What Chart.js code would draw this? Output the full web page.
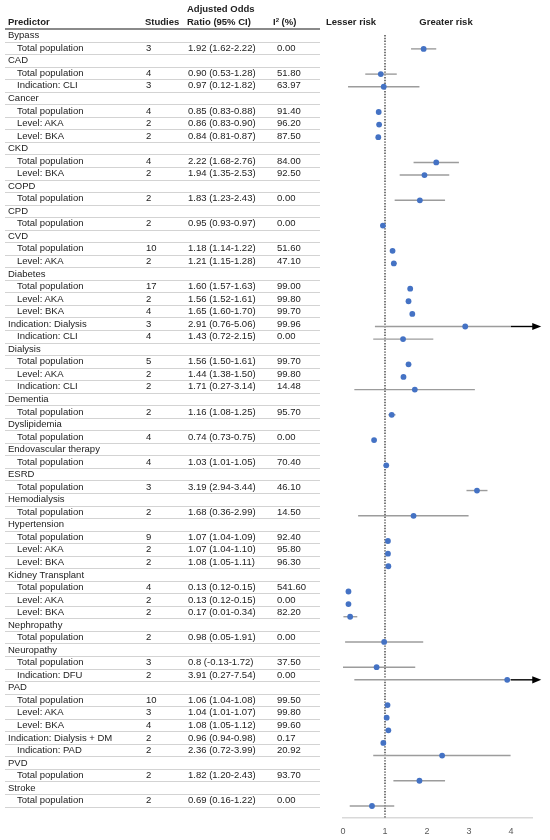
<!DOCTYPE html>
<html>
<head>
<meta charset="utf-8">
<title>Predictors - adjusted odds ratios</title>
<script src="https://cdn.jsdelivr.net/npm/chart.js@4"></script>
<style>
  body { margin: 0; background: #fff; }
  #wrap { position: relative; width: 550px; height: 840px; font-family: "Liberation Sans", Arial, sans-serif; color: #222; }
  #forest { position: absolute; left: 0; top: 0; }
  #table { position: absolute; left: 0; top: 0; width: 550px; height: 60px; }
  .txt { position: absolute; white-space: nowrap; font-size: 9.5px; line-height: 12px; height: 12px; }
  .bold { font-weight: bold; }
  .mid { transform: translateX(-50%); }
  .rule { position: absolute; left: 5px; width: 315px; height: 1px; background: #d3d3d3; }
  .head-rule { height: 1.5px; background: #8a8a8a; }
  sup { font-size: 6px; vertical-align: top; position: relative; top: -2px; }
</style>
</head>
<body>
<div id="wrap">
  <canvas id="forest" width="550" height="840"></canvas>
  <div id="table"></div>
</div>
<script>
// one entry per table row, top to bottom
var predictors = ["Bypass", "Total population", "CAD", "Total population", "Indication: CLI",
  "Cancer", "Total population", "Level: AKA", "Level: BKA",
  "CKD", "Total population", "Level: BKA", "COPD", "Total population", "CPD", "Total population",
  "CVD", "Total population", "Level: AKA",
  "Diabetes", "Total population", "Level: AKA", "Level: BKA", "Indication: Dialysis", "Indication: CLI",
  "Dialysis", "Total population", "Level: AKA", "Indication: CLI",
  "Dementia", "Total population", "Dyslipidemia", "Total population",
  "Endovascular therapy", "Total population", "ESRD", "Total population", "Hemodialysis", "Total population",
  "Hypertension", "Total population", "Level: AKA", "Level: BKA",
  "Kidney Transplant", "Total population", "Level: AKA", "Level: BKA",
  "Nephropathy", "Total population", "Neuropathy", "Total population", "Indication: DFU",
  "PAD", "Total population", "Level: AKA", "Level: BKA", "Indication: Dialysis + DM", "Indication: PAD",
  "PVD", "Total population", "Stroke", "Total population"];

var indent = [0,1,0,1,1, 0,1,1,1, 0,1,1, 0,1, 0,1, 0,1,1, 0,1,1,1,0,1, 0,1,1,1, 0,1, 0,1,
  0,1, 0,1, 0,1, 0,1,1,1, 0,1,1,1, 0,1, 0,1,1, 0,1,1,1,0,1, 0,1, 0,1];

var studies = [null,3,null,4,3, null,4,2,2, null,4,2, null,2, null,2, null,10,2,
  null,17,2,4,3,4, null,5,2,2, null,2, null,4, null,4, null,3, null,2,
  null,9,2,2, null,4,2,2, null,2, null,3,2, null,10,3,4,2,2, null,2, null,2];

var ratioText = ["", "1.92 (1.62-2.22)", "", "0.90 (0.53-1.28)", "0.97 (0.12-1.82)",
  "", "0.85 (0.83-0.88)", "0.86 (0.83-0.90)", "0.84 (0.81-0.87)",
  "", "2.22 (1.68-2.76)", "1.94 (1.35-2.53)", "", "1.83 (1.23-2.43)", "", "0.95 (0.93-0.97)",
  "", "1.18 (1.14-1.22)", "1.21 (1.15-1.28)",
  "", "1.60 (1.57-1.63)", "1.56 (1.52-1.61)", "1.65 (1.60-1.70)", "2.91 (0.76-5.06)", "1.43 (0.72-2.15)",
  "", "1.56 (1.50-1.61)", "1.44 (1.38-1.50)", "1.71 (0.27-3.14)",
  "", "1.16 (1.08-1.25)", "", "0.74 (0.73-0.75)",
  "", "1.03 (1.01-1.05)", "", "3.19 (2.94-3.44)", "", "1.68 (0.36-2.99)",
  "", "1.07 (1.04-1.09)", "1.07 (1.04-1.10)", "1.08 (1.05-1.11)",
  "", "0.13 (0.12-0.15)", "0.13 (0.12-0.15)", "0.17 (0.01-0.34)",
  "", "0.98 (0.05-1.91)", "", "0.8 (-0.13-1.72)", "3.91 (0.27-7.54)",
  "", "1.06 (1.04-1.08)", "1.04 (1.01-1.07)", "1.08 (1.05-1.12)", "0.96 (0.94-0.98)", "2.36 (0.72-3.99)",
  "", "1.82 (1.20-2.43)", "", "0.69 (0.16-1.22)"];

var oddsRatio = [null,1.92,null,0.90,0.97, null,0.85,0.86,0.84, null,2.22,1.94, null,1.83, null,0.95,
  null,1.18,1.21, null,1.60,1.56,1.65,2.91,1.43, null,1.56,1.44,1.71, null,1.16, null,0.74,
  null,1.03, null,3.19, null,1.68, null,1.07,1.07,1.08, null,0.13,0.13,0.17, null,0.98,
  null,0.8,3.91, null,1.06,1.04,1.08,0.96,2.36, null,1.82, null,0.69];

var ciLower = [null,1.62,null,0.53,0.12, null,0.83,0.83,0.81, null,1.68,1.35, null,1.23, null,0.93,
  null,1.14,1.15, null,1.57,1.52,1.60,0.76,0.72, null,1.50,1.38,0.27, null,1.08, null,0.73,
  null,1.01, null,2.94, null,0.36, null,1.04,1.04,1.05, null,0.12,0.12,0.01, null,0.05,
  null,-0.13,0.27, null,1.04,1.01,1.05,0.94,0.72, null,1.20, null,0.16];

var ciUpper = [null,2.22,null,1.28,1.82, null,0.88,0.90,0.87, null,2.76,2.53, null,2.43, null,0.97,
  null,1.22,1.28, null,1.63,1.61,1.70,5.06,2.15, null,1.61,1.50,3.14, null,1.25, null,0.75,
  null,1.05, null,3.44, null,2.99, null,1.09,1.10,1.11, null,0.15,0.15,0.34, null,1.91,
  null,1.72,7.54, null,1.08,1.07,1.12,0.98,3.99, null,2.43, null,1.22];

var i2 = [null,0.00,null,51.80,63.97, null,91.40,96.20,87.50, null,84.00,92.50, null,0.00, null,0.00,
  null,51.60,47.10, null,99.00,99.80,99.70,99.96,0.00, null,99.70,99.80,14.48, null,95.70, null,0.00,
  null,70.40, null,46.10, null,14.50, null,92.40,95.80,96.30, null,541.60,0.00,82.20, null,0.00,
  null,37.50,0.00, null,99.50,99.80,99.60,0.17,20.92, null,93.70, null,0.00];

var xTicks = [0, 1, 2, 3, 4];

var X_MAX = 4.5;       // end of the drawn axis
var CI_CAP = 4;        // grey CI line stops here when it runs off the axis
var ARROW_END = 4.72;  // tip of the black arrow

var pointData = [];
var datasets = [];
for (var i = 0; i < predictors.length; i++) {
  if (oddsRatio[i] === null) continue;
  pointData.push({ x: oddsRatio[i], y: i });
  datasets.push({
    type: 'scatter',
    showLine: true,
    data: [{ x: ciLower[i], y: i }, { x: ciUpper[i] > X_MAX ? CI_CAP : ciUpper[i], y: i }],
    borderColor: '#9c9c9c',
    borderWidth: 1.4,
    pointRadius: 0,
    pointHoverRadius: 0,
    order: 2
  });
}
datasets.push({
  type: 'scatter',
  data: pointData,
  backgroundColor: '#4472C4',
  borderWidth: 0,
  pointRadius: 2.9,
  order: 0
});

// dotted no-effect line at OR = 1
var refLine = {
  id: 'refLine',
  beforeDatasetsDraw: function (chart) {
    var ctx = chart.ctx, area = chart.chartArea;
    var px = chart.scales.x.getPixelForValue(1);
    ctx.save();
    ctx.strokeStyle = '#333';
    ctx.lineWidth = 1.3;
    ctx.setLineDash([1.4, 1.4]);
    ctx.beginPath();
    ctx.moveTo(px, area.top);
    ctx.lineTo(px, area.bottom);
    ctx.stroke();
    ctx.restore();
  }
};

// black arrows for intervals that run past the axis
var arrows = {
  id: 'arrows',
  afterDatasetsDraw: function (chart) {
    var ctx = chart.ctx, xs = chart.scales.x, ys = chart.scales.y;
    ctx.save();
    ctx.strokeStyle = '#000';
    ctx.fillStyle = '#000';
    ctx.lineWidth = 1.4;
    for (var i = 0; i < ciUpper.length; i++) {
      if (ciUpper[i] === null || ciUpper[i] <= X_MAX) continue;
      var y = ys.getPixelForValue(i);
      var x0 = xs.getPixelForValue(CI_CAP);
      var x1 = xs.getPixelForValue(ARROW_END);
      ctx.beginPath();
      ctx.moveTo(x0, y);
      ctx.lineTo(x1 - 6, y);
      ctx.stroke();
      ctx.beginPath();
      ctx.moveTo(x1, y);
      ctx.lineTo(x1 - 9, y - 3.6);
      ctx.lineTo(x1 - 9, y + 3.6);
      ctx.closePath();
      ctx.fill();
    }
    ctx.restore();
  }
};

Chart.defaults.font.family = '"Liberation Sans", Arial, sans-serif';

var chart = new Chart(document.getElementById('forest').getContext('2d'), {
  type: 'scatter',
  data: { datasets: datasets },
  options: {
    responsive: false,
    animation: false,
    events: [],
    layout: { padding: { left: 343, right: 18, top: 35, bottom: 0 } },
    plugins: { legend: { display: false }, tooltip: { enabled: false } },
    scales: {
      x: {
        type: 'linear',
        min: 0,
        max: X_MAX,
        grid: { display: false },
        border: { display: true, color: '#d9d9d9', width: 1.5 },
        afterBuildTicks: function (scale) {
          scale.ticks = xTicks.map(function (v) { return { value: v }; });
        },
        ticks: { padding: 0, color: '#595959', font: { size: 9 } },
        afterFit: function (scale) { scale.height = 22; }
      },
      y: { type: 'linear', reverse: true, min: -0.1, max: 61.95, display: false }
    }
  },
  plugins: [refLine, arrows]
});

// table on the left, built as real text
var table = document.getElementById('table');
var TABLE_TOP = 35.3, ROW_H = 12.54;

function addText(html, x, y, cls) {
  var d = document.createElement('div');
  d.className = 'txt' + (cls ? ' ' + cls : '');
  d.style.left = x + 'px';
  d.style.top = (y - 6) + 'px';
  d.innerHTML = html;
  table.appendChild(d);
}
function addRule(y, cls) {
  var d = document.createElement('div');
  d.className = 'rule' + (cls ? ' ' + cls : '');
  d.style.top = y + 'px';
  table.appendChild(d);
}

addText('Predictor', 8, 22, 'bold');
addText('Studies', 145, 22, 'bold');
addText('Adjusted Odds', 187, 8.5, 'bold');
addText('Ratio (95% CI)', 187, 22, 'bold');
addText('I<sup>2</sup> (%)', 273, 22, 'bold');
addText('Lesser risk', 351, 22, 'bold mid');
addText('Greater risk', 446, 22, 'bold mid');
addRule(TABLE_TOP - ROW_H / 2 - 0.7, 'head-rule');

predictors.forEach(function (name, r) {
  var y = TABLE_TOP + r * ROW_H;
  addText(name, indent[r] ? 17 : 8, y);
  if (studies[r] !== null) {
    addText(String(studies[r]), 146, y);
    addText(ratioText[r], 188, y);
    addText(i2[r].toFixed(2), 277, y);
  }
  addRule(y + ROW_H / 2);
});
</script>
</body>
</html>
